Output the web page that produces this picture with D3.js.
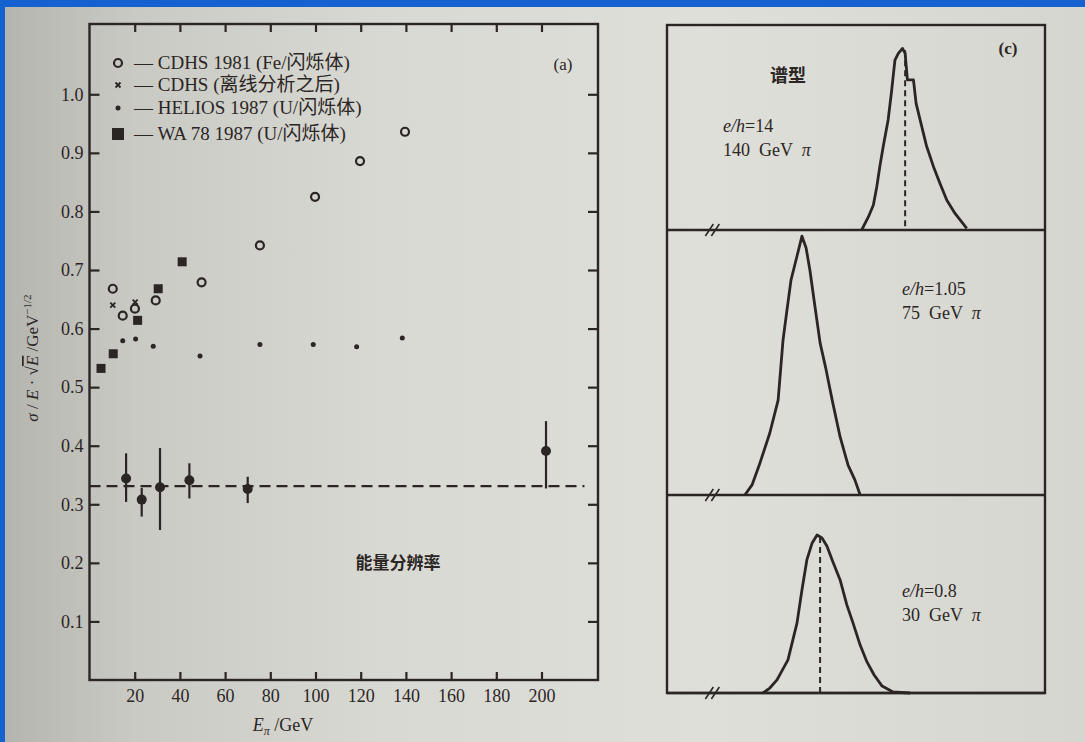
<!DOCTYPE html>
<html>
<head>
<meta charset="utf-8">
<script src="https://cdn.jsdelivr.net/npm/d3@7"></script>
<style>
  body { margin: 0; background: #1462cf; }
  svg { display: block; }
  text { font-family: "Liberation Serif", "Noto Sans CJK SC", serif; fill: #2b2624; white-space: pre; }
</style>
</head>
<body>
<div id="chart"></div>
<script>
// ---- data (a): energy resolution sigma/E*sqrt(E) vs E_pi ----
const cdhs1981 = [[10.3, 0.668], [14.7, 0.622], [20.1, 0.634], [29.3, 0.648], [49.6, 0.679],
                  [75.4, 0.742], [99.8, 0.825], [119.7, 0.886], [139.6, 0.936]];
const cdhsOffline = [[10.3, 0.640], [20.2, 0.645]];
const helios1987 = [[14.7, 0.579], [20.4, 0.582], [28.2, 0.570], [48.9, 0.553], [75.4, 0.573],
                    [99.0, 0.573], [118.2, 0.569], [138.4, 0.584]];
const wa78 = [[5.1, 0.532], [10.5, 0.557], [21.3, 0.614], [30.4, 0.668], [41.0, 0.714]];
// points with error bars: [E, value, low, high]
const errPoints = [[16.2, 0.344, 0.304, 0.387], [23.1, 0.308, 0.279, 0.328], [31.2, 0.329, 0.256, 0.396],
                   [44.2, 0.341, 0.310, 0.370], [70.0, 0.326, 0.302, 0.347], [202.0, 0.391, 0.327, 0.442]];
const dashLevel = 0.331;
const xTicks = [20, 40, 60, 80, 100, 120, 140, 160, 180, 200];
const yTicks = [0.1, 0.2, 0.3, 0.4, 0.5, 0.6, 0.7, 0.8, 0.9, 1.0];
const legendLabels = ["— CDHS 1981 (Fe/闪烁体)", "— CDHS (离线分析之后)", "— HELIOS 1987 (U/闪烁体)", "— WA 78 1987 (U/闪烁体)"];

// ---- data (c): spectra, x and counts in arbitrary units 0-100 ----
const spec140 = [[51.5, 0], [53.3, 6.5], [54.6, 12.2], [55.5, 21.1], [56.3, 30.9], [57.2, 40.7], [58.5, 53.7],
                 [59.4, 67.5], [60.3, 82.9], [61.2, 86.2], [62.3, 88.6], [63.0, 86.2], [63.6, 73.2], [65.2, 73.2],
                 [65.9, 61.8], [67.4, 50.4], [68.7, 40.7], [70.5, 30.9], [72.2, 22.8], [74.0, 14.6], [76.2, 8.1], [79.3, 0.8]];
const spec75 = [[20.6, 0], [22.5, 3.8], [24.6, 12.1], [27.2, 23.4], [29.4, 35.8], [30.7, 58.5], [31.5, 67.2],
                [32.8, 81.1], [34.4, 90.2], [35.7, 97.7], [36.8, 93.2], [37.8, 84.9], [38.9, 73.6], [40.5, 57.4],
                [42.1, 47.2], [43.7, 35.8], [45.8, 21.9], [47.9, 11.3], [49.7, 5.7], [51.1, 0]];
const spec30 = [[25.4, 0], [27.2, 2.5], [29.1, 6.6], [32.0, 16.7], [33.3, 26.8], [34.4, 35.4], [35.7, 52.0],
                [37.0, 67.2], [38.4, 75.8], [39.7, 79.8], [41.0, 78.3], [42.3, 74.2], [43.9, 66.2], [45.8, 57.1],
                [47.6, 44.4], [49.2, 35.4], [51.1, 24.2], [52.9, 15.7], [54.8, 9.1], [56.9, 3.5], [59.8, 0.5], [64.3, 0]];
const specLabels = [["e/h=14", "140  GeV  π"], ["e/h=1.05", "75  GeV  π"], ["e/h=0.8", "30  GeV  π"]];
const specMean = [63.0, null, 40.5];

const ink = '#2b2624';
let width = 1085, height = 742;

let svg = d3.select('#chart').append('svg')
  .attr('width', width)
  .attr('height', height);

// page photo background
let grad = svg.append('defs').append('linearGradient').attr('id', 'page');
[['0%', '#b5b5b0'], ['12%', '#cacac5'], ['35%', '#d9d9d4'], ['65%', '#dfdfda'], ['100%', '#d6d6d0']]
  .forEach(s => grad.append('stop').attr('offset', s[0]).attr('stop-color', s[1]));
svg.append('rect').attr('x', 0).attr('y', 0).attr('width', width).attr('height', height).attr('fill', '#1462cf');
svg.append('rect').attr('x', 5).attr('y', 7).attr('width', width - 5).attr('height', height - 7).attr('fill', 'url(#page)');

// ===== panel (a) =====
let x = d3.scaleLinear().domain([0, 225]).range([89.5, 598]);
let y = d3.scaleLinear().domain([0, 1.12]).range([680, 24]);

svg.append('rect')
  .attr('x', x(0)).attr('y', y(1.12))
  .attr('width', x(225) - x(0)).attr('height', y(0) - y(1.12))
  .attr('fill', 'none').attr('stroke', ink).attr('stroke-width', 2.4);

let xAxis = svg.append('g')
  .attr('transform', `translate(0, ${y(0)})`)
  .call(d3.axisBottom(x).tickValues(xTicks).tickSize(-8).tickPadding(9).tickSizeOuter(0));
let xTop = svg.append('g')
  .attr('transform', `translate(0, ${y(1.12)})`)
  .call(d3.axisTop(x).tickValues(xTicks).tickSize(-8).tickFormat('').tickSizeOuter(0));
let yAxis = svg.append('g')
  .attr('transform', `translate(${x(0)}, 0)`)
  .call(d3.axisLeft(y).tickValues(yTicks).tickSize(-10).tickPadding(6).tickFormat(d3.format('.1f')).tickSizeOuter(0));
let yRight = svg.append('g')
  .attr('transform', `translate(${x(225)}, 0)`)
  .call(d3.axisRight(y).tickValues(yTicks).tickSize(-10).tickFormat('').tickSizeOuter(0));

[xAxis, xTop, yAxis, yRight].forEach(g => {
  g.select('.domain').remove();
  g.selectAll('line').attr('stroke', ink).attr('stroke-width', 2.2);
  g.selectAll('text').style('font-family', '"Liberation Serif", serif').style('font-size', '18px').attr('fill', ink);
});

// axis titles
svg.append('text')
  .attr('transform', `translate(38, 358) rotate(-90)`)
  .attr('text-anchor', 'middle')
  .style('font-size', '17px')
  .html('<tspan font-style="italic">σ</tspan> / <tspan font-style="italic">E</tspan> · √<tspan font-style="italic" text-decoration="overline">E</tspan> /GeV<tspan dy="-7" font-size="11px">−1/2</tspan>');

svg.append('text')
  .attr('x', 283).attr('y', 731)
  .attr('text-anchor', 'middle')
  .style('font-size', '18px')
  .html('<tspan font-style="italic">E</tspan><tspan dy="4" font-size="12px" font-style="italic">π</tspan><tspan dy="-4"> /GeV</tspan>');

svg.append('text')
  .attr('x', 563).attr('y', 70)
  .attr('text-anchor', 'middle')
  .style('font-size', '17px')
  .text('(a)');

svg.append('text')
  .attr('x', 398).attr('y', 569)
  .attr('text-anchor', 'middle')
  .style('font-family', '"Noto Sans CJK SC", sans-serif')
  .style('font-size', '17px')
  .style('font-weight', 'bold')
  .text('能量分辨率');

// dashed reference line
svg.append('line')
  .attr('x1', x(0)).attr('x2', x(219))
  .attr('y1', y(dashLevel)).attr('y2', y(dashLevel))
  .attr('stroke', ink).attr('stroke-width', 2.2)
  .attr('stroke-dasharray', '11,6');

// markers
function drawCircle(g, cx, cy) {
  g.append('circle').attr('cx', cx).attr('cy', cy).attr('r', 4)
    .attr('fill', 'none').attr('stroke', ink).attr('stroke-width', 2.2);
}
function drawCross(g, cx, cy) {
  g.append('path').attr('d', `M${cx - 2.5},${cy - 2.5}L${cx + 2.5},${cy + 2.5}M${cx + 2.5},${cy - 2.5}L${cx - 2.5},${cy + 2.5}`)
    .attr('stroke', ink).attr('stroke-width', 1.8);
}
function drawDot(g, cx, cy) {
  g.append('circle').attr('cx', cx).attr('cy', cy).attr('r', 2.5).attr('fill', ink);
}
function drawSquare(g, cx, cy) {
  g.append('rect').attr('x', cx - 4.5).attr('y', cy - 4.5).attr('width', 9).attr('height', 9).attr('fill', ink);
}

let marks = svg.append('g');
cdhs1981.forEach(d => drawCircle(marks, x(d[0]), y(d[1])));
cdhsOffline.forEach(d => drawCross(marks, x(d[0]), y(d[1])));
helios1987.forEach(d => drawDot(marks, x(d[0]), y(d[1])));
wa78.forEach(d => drawSquare(marks, x(d[0]), y(d[1])));

errPoints.forEach(d => {
  marks.append('line')
    .attr('x1', x(d[0])).attr('x2', x(d[0]))
    .attr('y1', y(d[2])).attr('y2', y(d[3]))
    .attr('stroke', ink).attr('stroke-width', 2.2);
  marks.append('circle').attr('cx', x(d[0])).attr('cy', y(d[1])).attr('r', 5).attr('fill', ink);
});

// legend
let legendY = [63, 85, 108, 134];
let legendDraw = [drawCircle, drawCross, drawDot, drawSquare];
legendLabels.forEach((label, i) => {
  if (i === 3) {
    svg.append('rect').attr('x', 112).attr('y', legendY[i] - 6).attr('width', 12).attr('height', 12).attr('fill', ink);
  } else {
    legendDraw[i](svg, 118, legendY[i]);
  }
  svg.append('text')
    .attr('x', 134).attr('y', legendY[i] + 6)
    .style('font-size', '19px')
    .text(label);
});

// ===== panel (c) =====
let cLeft = 667, cRight = 1045;
let panelTops = [25, 230, 495];
let panelBottoms = [230, 495, 693];
let spectra = [spec140, spec75, spec30];

svg.append('rect')
  .attr('x', cLeft).attr('y', panelTops[0])
  .attr('width', cRight - cLeft).attr('height', panelBottoms[2] - panelTops[0])
  .attr('fill', 'none').attr('stroke', ink).attr('stroke-width', 2.4);

spectra.forEach((spec, i) => {
  let sx = d3.scaleLinear().domain([0, 100]).range([cLeft, cRight]);
  let sy = d3.scaleLinear().domain([0, 100]).range([panelBottoms[i], panelTops[i]]);

  // baseline of each panel
  svg.append('line')
    .attr('x1', cLeft).attr('x2', cRight)
    .attr('y1', sy(0)).attr('y2', sy(0))
    .attr('stroke', ink).attr('stroke-width', 2.4);

  // axis break mark
  let bx = sx(12), by = sy(0);
  [-3, 3].forEach(off => {
    svg.append('line')
      .attr('x1', bx + off - 4).attr('y1', by + 6)
      .attr('x2', bx + off + 4).attr('y2', by - 6)
      .attr('stroke', ink).attr('stroke-width', 1.6);
  });

  let line = d3.line()
    .x(d => sx(d[0]))
    .y(d => sy(d[1]));
  svg.append('path')
    .datum(spec)
    .attr('d', line)
    .attr('fill', 'none')
    .attr('stroke', ink)
    .attr('stroke-width', 2.8)
    .attr('stroke-linejoin', 'round');

  if (specMean[i] !== null) {
    let top = d3.max(spec, d => d[1]);
    svg.append('line')
      .attr('x1', sx(specMean[i])).attr('x2', sx(specMean[i]))
      .attr('y1', sy(top) + 2).attr('y2', sy(0))
      .attr('stroke', ink).attr('stroke-width', 2)
      .attr('stroke-dasharray', '6,4');
  }
});

let labelPos = [[723, 132], [902, 295], [902, 597]];
specLabels.forEach((lab, i) => {
  let parts = lab[0].split('=');
  svg.append('text')
    .attr('x', labelPos[i][0]).attr('y', labelPos[i][1])
    .style('font-size', '18px')
    .html(`<tspan font-style="italic">${parts[0]}</tspan>=${parts[1]}`);
  svg.append('text')
    .attr('x', labelPos[i][0]).attr('y', labelPos[i][1] + 24)
    .style('font-size', '18px')
    .html(lab[1].replace('π', '<tspan font-style="italic">π</tspan>'));
});

svg.append('text')
  .attr('x', 788).attr('y', 82)
  .attr('text-anchor', 'middle')
  .style('font-family', '"Noto Sans CJK SC", sans-serif')
  .style('font-size', '18px')
  .style('font-weight', 'bold')
  .text('谱型');

svg.append('text')
  .attr('x', 1008).attr('y', 54)
  .attr('text-anchor', 'middle')
  .style('font-size', '17px')
  .style('font-weight', 'bold')
  .text('(c)');
</script>
</body>
</html>
